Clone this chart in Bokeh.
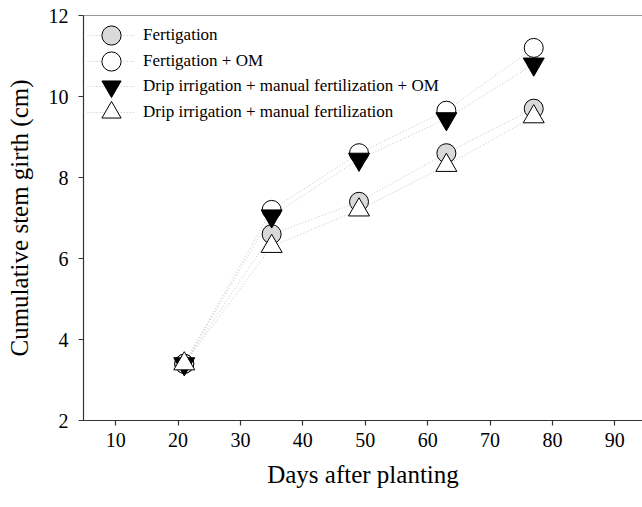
from bokeh.plotting import figure
from bokeh.models import Range1d, Span, Legend, LegendItem, FixedTicker
from bokeh.embed import file_html
from bokeh.resources import INLINE

days = [21, 35, 49, 63, 77]
fertigation = [3.4, 6.6, 7.4, 8.6, 9.7]
fertigation_om = [3.4, 7.2, 8.6, 9.65, 11.2]
drip_manual_om = [3.4, 7.05, 8.45, 9.45, 10.8]
drip_manual = [3.4, 6.3, 7.2, 8.3, 9.5]

labels = ["Fertigation", "Fertigation + OM",
          "Drip irrigation + manual fertilization + OM",
          "Drip irrigation + manual fertilization"]
x_ticks = [10, 20, 30, 40, 50, 60, 70, 80, 90]
y_ticks = [2, 4, 6, 8, 10, 12]

FONT = "Liberation Serif"
AX = "#333333"

p = figure(width=642, height=500, output_backend="svg", toolbar_location=None,
           x_range=Range1d(4.85, 94.43), y_range=Range1d(2, 12),
           min_border_left=83, min_border_right=0, min_border_top=15,
           min_border_bottom=80)
p.outline_line_color = None
p.xgrid.visible = False
p.ygrid.visible = False
p.background_fill_color = "white"
p.border_fill_color = "white"

top = Span(location=12, dimension="width", line_color=AX, line_width=1.2)
p.add_layout(top)

series = [
    (fertigation, "circle", "#d9d9d9", 19),
    (fertigation_om, "circle", "white", 19),
    (drip_manual_om, "inverted_triangle", "black", 21),
    (drip_manual, "triangle", "white", 21),
]

line_rs = []
for vals, _, _, _ in series:
    lr = p.line(days, vals, line_color="#c4c4c4", line_width=1, line_dash="1 2")
    line_rs.append(lr)

# one single-row legend per series, stacked 25.7 px apart
legend_offsets = [361, 335, 310, 284]
for i, (vals, mk, fill, sz) in enumerate(series):
    sr = p.scatter(days, vals, marker=mk, size=sz, fill_color=fill,
                   line_color="black", line_width=1)
    item = LegendItem(label=labels[i], renderers=[line_rs[i], sr])
    lg = Legend(items=[item], location=(4, legend_offsets[i]), margin=0,
                padding=0, spacing=0, glyph_height=48, label_height=48,
                glyph_width=48, label_standoff=8, border_line_color=None,
                background_fill_alpha=0, label_text_font=FONT,
                label_text_font_size="17px", label_text_color="black")
    p.add_layout(lg)

for ax in (p.xaxis[0], p.yaxis[0]):
    ax.axis_line_color = AX
    ax.axis_line_width = 1.2
    ax.major_tick_line_color = AX
    ax.major_tick_line_width = 1.2
    ax.major_tick_out = 5
    ax.major_tick_in = 0
    ax.minor_tick_line_color = None
    ax.major_label_text_font = FONT
    ax.major_label_text_font_size = "20px"
    ax.major_label_text_color = "black"
    ax.axis_label_text_font = FONT
    ax.axis_label_text_font_size = "25px"
    ax.axis_label_text_font_style = "normal"
    ax.axis_label_text_color = "black"

p.xaxis[0].ticker = FixedTicker(ticks=x_ticks)
p.yaxis[0].ticker = FixedTicker(ticks=y_ticks)
p.xaxis[0].axis_label = "Days after planting"
p.yaxis[0].axis_label = "Cumulative stem girth (cm)"
p.xaxis[0].major_label_standoff = 7
p.xaxis[0].axis_label_standoff = 11
p.yaxis[0].major_label_standoff = 10
p.yaxis[0].axis_label_standoff = 13

open("out.html", "w").write(file_html(p, INLINE))
